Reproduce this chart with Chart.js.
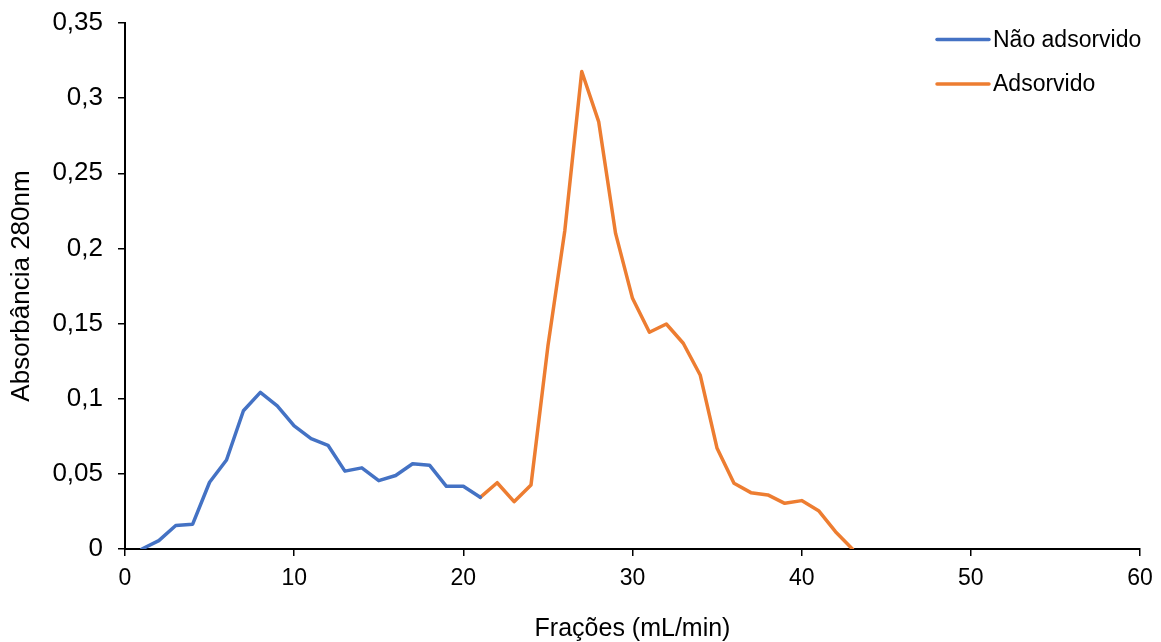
<!DOCTYPE html>
<html>
<head>
<meta charset="utf-8">
<script src="https://cdn.jsdelivr.net/npm/chart.js@4.4.1/dist/chart.umd.min.js"></script>
<style>
  html, body { margin: 0; padding: 0; background: #ffffff; }
  #wrap { position: relative; width: 1161px; height: 642px; }
</style>
</head>
<body>
<div id="wrap"><canvas id="c" width="1161" height="642"></canvas></div>
<script>
// ---- data ----
const naoFractions = [1,2,3,4,5,6,7,8,9,10,11,12,13,14,15,16,17,18,19,20,21];
const naoValues    = [0,0.0056,0.0156,0.0165,0.0444,0.0592,0.092,0.1042,0.0953,0.0819,0.0734,0.069,0.0518,0.054,0.0455,0.0489,0.0567,0.0558,0.0417,0.0417,0.0344];
const adsFractions = [21,22,23,24,25,26,27,28,29,30,31,32,33,34,35,36,37,38,39,40,41,42,43];
const adsValues    = [0.0344,0.0441,0.0315,0.0426,0.135,0.212,0.3177,0.2844,0.210,0.1668,0.1442,0.1497,0.1369,0.1158,0.067,0.0437,0.0375,0.036,0.0304,0.0322,0.0255,0.0115,0];
const seriesNames  = ['Não adsorvido', 'Adsorvido'];
const yTickLabels  = ['0','0,05','0,1','0,15','0,2','0,25','0,3','0,35'];
const xTickLabels  = ['0','10','20','30','40','50','60'];
const xTitle = 'Frações (mL/min)';
const yTitle = 'Absorbância 280nm';

const BLUE = '#4472C4';
const ORANGE = '#ED7D31';
const FONT = "'Liberation Sans', Arial, sans-serif";

const toPoints = (xs, ys) => xs.map((x, i) => ({ x: x, y: ys[i] }));

const legendPlugin = {
  id: 'insideLegend',
  afterDraw(chart) {
    const ctx = chart.ctx;
    const rows = [39.5, 84];
    ctx.save();
    chart.data.datasets.forEach((ds, i) => {
      const y = rows[i];
      ctx.strokeStyle = ds.borderColor;
      ctx.lineWidth = 3.5;
      ctx.lineCap = 'round';
      ctx.beginPath();
      ctx.moveTo(937, y);
      ctx.lineTo(989, y);
      ctx.stroke();
      ctx.fillStyle = '#000000';
      ctx.font = '23px ' + FONT;
      ctx.textAlign = 'left';
      ctx.textBaseline = 'middle';
      ctx.fillText(ds.label, 993, y + 1);
    });
    ctx.restore();
  }
};

new Chart(document.getElementById('c'), {
  type: 'line',
  data: {
    datasets: [
      { label: seriesNames[0], data: toPoints(naoFractions, naoValues), borderColor: BLUE, backgroundColor: BLUE },
      { label: seriesNames[1], data: toPoints(adsFractions, adsValues), borderColor: ORANGE, backgroundColor: ORANGE }
    ]
  },
  options: {
    responsive: false,
    animation: false,
    devicePixelRatio: 1,
    layout: { padding: { top: 23, right: 21, left: 0, bottom: 0 } },
    elements: {
      line: { borderWidth: 3.5, tension: 0, borderJoinStyle: 'round', borderCapStyle: 'round' },
      point: { radius: 0, hoverRadius: 0 }
    },
    plugins: { legend: { display: false }, tooltip: { enabled: false } },
    scales: {
      x: {
        type: 'linear', min: 0, max: 60,
        afterFit(scale) { scale.height = 93; scale.paddingLeft = 0; scale.paddingRight = 0; },
        ticks: {
          stepSize: 10, color: '#000', padding: 9,
          font: { family: FONT, size: 23 },
          maxRotation: 0,
          callback: (v, i) => xTickLabels[i]
        },
        grid: { display: true, drawOnChartArea: false, drawTicks: true, tickLength: 7, color: '#000', lineWidth: 1.5 },
        border: { display: true, color: '#000', width: 2 },
        title: { display: true, text: xTitle, color: '#000', font: { family: FONT, size: 25, lineHeight: 1.0 }, padding: { top: 0, bottom: 0 } }
      },
      y: {
        min: 0, max: 0.35,
        afterFit(scale) { scale.width = 125; scale.paddingTop = 0; scale.paddingBottom = 0; },
        ticks: {
          stepSize: 0.05, color: '#000', padding: 15,
          font: { family: FONT, size: 26 },
          callback: (v, i) => yTickLabels[i]
        },
        grid: { display: true, drawOnChartArea: false, drawTicks: true, tickLength: 7, color: '#000', lineWidth: 1.5 },
        border: { display: true, color: '#000', width: 2 },
        title: { display: true, text: yTitle, color: '#000', font: { family: FONT, size: 26, lineHeight: 1.0 }, padding: { top: 9, bottom: 0 } }
      }
    }
  },
  plugins: [legendPlugin]
});
</script>
</body>
</html>
